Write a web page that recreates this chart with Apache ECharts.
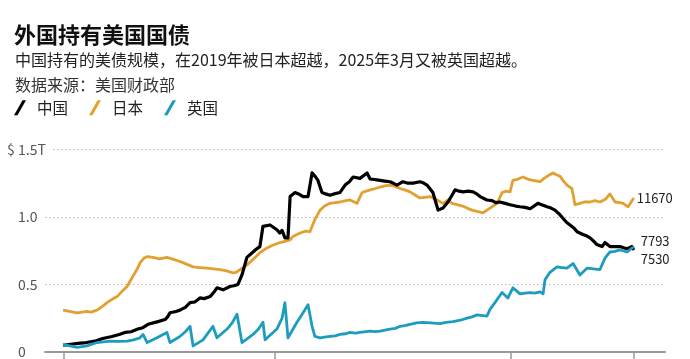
<!DOCTYPE html>
<html>
<head>
<meta charset="utf-8">
<script src="https://cdn.jsdelivr.net/npm/echarts@6/dist/echarts.min.js"></script>
<style>html,body{margin:0;padding:0;background:#fff;}#c{width:690px;height:359px;}</style>
</head>
<body>
<div id="c"></div>
<script>
// Values in trillions of USD, x in decimal years
const seriesNames = ['中国', '日本', '英国'];
const chinaData = [[2001.02,0.05],[2001.65,0.064],[2002.0,0.07],[2002.37,0.08],[2002.7,0.1],[2003.09,0.115],[2003.4,0.13],[2003.64,0.145],[2003.9,0.15],[2004.19,0.17],[2004.4,0.18],[2004.62,0.205],[2005.04,0.225],[2005.34,0.24],[2005.45,0.26],[2005.55,0.29],[2005.8,0.3],[2005.97,0.31],[2006.2,0.33],[2006.40,0.365],[2006.6,0.37],[2006.82,0.40],[2007.0,0.395],[2007.25,0.41],[2007.4,0.44],[2007.54,0.475],[2007.80,0.46],[2008.09,0.485],[2008.25,0.49],[2008.43,0.50],[2008.60,0.57],[2008.81,0.70],[2009.07,0.74],[2009.2,0.76],[2009.36,0.78],[2009.49,0.93],[2009.65,0.935],[2009.79,0.94],[2010.08,0.905],[2010.2,0.88],[2010.3,0.9],[2010.42,0.845],[2010.55,0.845],[2010.64,1.15],[2010.85,1.18],[2011.0,1.17],[2011.19,1.15],[2011.40,1.15],[2011.57,1.325],[2011.7,1.3],[2011.82,1.27],[2011.99,1.18],[2012.15,1.17],[2012.33,1.16],[2012.5,1.17],[2012.75,1.18],[2012.97,1.235],[2013.15,1.26],[2013.31,1.295],[2013.60,1.285],[2013.90,1.325],[2014.03,1.28],[2014.25,1.275],[2014.45,1.27],[2014.65,1.265],[2014.87,1.26],[2015.0,1.25],[2015.17,1.235],[2015.42,1.26],[2015.6,1.25],[2015.85,1.25],[2016.14,1.26],[2016.3,1.25],[2016.44,1.235],[2016.69,1.18],[2016.91,1.05],[2017.12,1.065],[2017.33,1.11],[2017.5,1.16],[2017.63,1.20],[2017.8,1.19],[2017.97,1.185],[2018.2,1.19],[2018.39,1.185],[2018.55,1.17],[2018.69,1.15],[2018.98,1.125],[2019.2,1.12],[2019.35,1.105],[2019.53,1.11],[2019.75,1.1],[2019.96,1.09],[2020.2,1.08],[2020.38,1.075],[2020.6,1.07],[2020.81,1.06],[2021.14,1.10],[2021.3,1.09],[2021.53,1.075],[2021.7,1.065],[2021.86,1.05],[2022.05,1.02],[2022.20,0.99],[2022.35,0.96],[2022.50,0.94],[2022.65,0.92],[2022.80,0.89],[2023.05,0.87],[2023.2,0.86],[2023.35,0.845],[2023.5,0.82],[2023.64,0.795],[2023.86,0.78],[2023.98,0.81],[2024.19,0.78],[2024.4,0.78],[2024.62,0.78],[2024.8,0.77],[2024.92,0.765],[2025.13,0.78],[2025.2,0.755]];
const japanData = [[2001.02,0.31],[2001.3,0.3],[2001.61,0.29],[2002.03,0.30],[2002.2,0.295],[2002.46,0.31],[2002.7,0.34],[2002.88,0.365],[2003.1,0.39],[2003.31,0.41],[2003.5,0.445],[2003.73,0.485],[2003.98,0.56],[2004.15,0.61],[2004.28,0.66],[2004.45,0.695],[2004.58,0.705],[2004.83,0.70],[2005.1,0.69],[2005.42,0.70],[2005.7,0.685],[2005.97,0.67],[2006.25,0.65],[2006.53,0.63],[2006.8,0.625],[2007.12,0.62],[2007.4,0.615],[2007.67,0.61],[2007.95,0.6],[2008.22,0.585],[2008.35,0.59],[2008.52,0.61],[2008.81,0.645],[2009.1,0.69],[2009.36,0.735],[2009.66,0.77],[2009.9,0.79],[2010.21,0.81],[2010.45,0.82],[2010.64,0.83],[2010.76,0.855],[2011.06,0.88],[2011.3,0.895],[2011.48,0.89],[2011.69,0.98],[2011.91,1.05],[2012.1,1.08],[2012.33,1.10],[2012.55,1.105],[2012.75,1.11],[2013.0,1.12],[2013.18,1.125],[2013.47,1.10],[2013.69,1.18],[2014.03,1.20],[2014.25,1.21],[2014.45,1.22],[2014.65,1.23],[2014.87,1.235],[2015.1,1.225],[2015.30,1.21],[2015.5,1.2],[2015.72,1.185],[2015.95,1.16],[2016.14,1.14],[2016.35,1.145],[2016.57,1.15],[2016.87,1.125],[2017.12,1.10],[2017.33,1.125],[2017.5,1.1],[2017.71,1.09],[2017.95,1.08],[2018.14,1.065],[2018.35,1.05],[2018.56,1.04],[2018.81,1.03],[2019.11,1.065],[2019.41,1.10],[2019.62,1.18],[2019.8,1.19],[2019.96,1.185],[2020.08,1.27],[2020.3,1.28],[2020.51,1.295],[2020.7,1.28],[2020.93,1.27],[2021.23,1.26],[2021.4,1.285],[2021.53,1.30],[2021.78,1.325],[2021.95,1.31],[2022.08,1.30],[2022.2,1.27],[2022.37,1.235],[2022.58,1.21],[2022.71,1.09],[2022.92,1.10],[2023.1,1.11],[2023.35,1.11],[2023.55,1.12],[2023.77,1.11],[2024.0,1.13],[2024.19,1.17],[2024.41,1.11],[2024.6,1.105],[2024.75,1.10],[2024.96,1.075],[2025.2,1.14]];
const ukData = [[2001.02,0.057],[2001.3,0.045],[2001.61,0.035],[2002.03,0.045],[2002.46,0.07],[2003.01,0.08],[2003.4,0.078],[2003.73,0.08],[2004.0,0.09],[2004.28,0.105],[2004.41,0.13],[2004.58,0.07],[2005.00,0.105],[2005.42,0.145],[2005.55,0.07],[2005.97,0.115],[2006.2,0.15],[2006.40,0.19],[2006.53,0.045],[2006.95,0.09],[2007.37,0.19],[2007.54,0.105],[2007.97,0.17],[2008.2,0.22],[2008.39,0.28],[2008.60,0.07],[2009.07,0.13],[2009.3,0.17],[2009.49,0.22],[2009.58,0.09],[2010.08,0.17],[2010.3,0.25],[2010.42,0.365],[2010.55,0.105],[2010.93,0.22],[2011.15,0.28],[2011.40,0.35],[2011.48,0.34],[2011.57,0.19],[2011.69,0.115],[2011.91,0.105],[2012.1,0.11],[2012.33,0.115],[2012.55,0.12],[2012.75,0.13],[2013.0,0.135],[2013.18,0.145],[2013.4,0.14],[2013.60,0.145],[2014.03,0.155],[2014.25,0.15],[2014.45,0.155],[2014.87,0.17],[2015.1,0.175],[2015.30,0.19],[2015.5,0.195],[2015.72,0.205],[2016.0,0.215],[2016.27,0.22],[2016.6,0.215],[2016.99,0.21],[2017.25,0.22],[2017.54,0.225],[2017.85,0.235],[2018.14,0.25],[2018.35,0.26],[2018.56,0.275],[2018.98,0.265],[2019.11,0.315],[2019.32,0.365],[2019.62,0.44],[2019.87,0.40],[2020.08,0.475],[2020.38,0.43],[2020.6,0.435],[2020.81,0.44],[2021.0,0.435],[2021.23,0.445],[2021.36,0.43],[2021.44,0.535],[2021.65,0.59],[2021.95,0.63],[2022.15,0.625],[2022.37,0.62],[2022.63,0.655],[2022.92,0.57],[2023.22,0.62],[2023.5,0.615],[2023.77,0.61],[2023.98,0.695],[2024.19,0.74],[2024.4,0.745],[2024.62,0.755],[2024.92,0.74],[2025.2,0.779]];
// End labels (亿美元)
const endLabelValues = { '中国': 7530, '日本': 11670, '英国': 7793 };
const xTickValues = [2001.06, 2010, 2020, 2025.21];
const yTickLabels = { 0: '0', 0.5: '0.5', 1: '1.0', 1.5: '1.5T' };

const FONT = '"Noto Sans CJK SC", "Noto Sans", sans-serif';
const chart = echarts.init(document.getElementById('c'), null, { renderer: 'canvas' });

function lineSeries(name, data, color, width, z, offset, dist) {
  return {
    name: name, type: 'line', data: data, showSymbol: false, symbol: 'none',
    z: z, animation: false,
    lineStyle: { color: color, width: width, join: 'round' },
    itemStyle: { color: color },
    endLabel: {
      show: true, fontFamily: FONT, fontSize: 13, color: '#222',
      distance: dist, offset: offset,
      formatter: function () { return String(endLabelValues[name]); }
    }
  };
}

chart.setOption({
  backgroundColor: '#fff',
  animation: false,
  title: [
    { text: '外国持有美国国债', left: 14, top: 24, padding: 0,
      textStyle: { fontFamily: FONT, fontSize: 22, fontWeight: 'bold', color: '#111' } },
    { text: '中国持有的美债规模，在2019年被日本超越，2025年3月又被英国超越。', left: 15, top: 52, padding: 0,
      textStyle: { fontFamily: FONT, fontSize: 16, fontWeight: 'normal', color: '#222' } },
    { text: '数据来源：美国财政部', left: 15, top: 77, padding: 0,
      textStyle: { fontFamily: FONT, fontSize: 16, fontWeight: 'normal', color: '#333' } }
  ],
  legend: {
    data: seriesNames, left: 14, top: 100, padding: 0,
    itemWidth: 12, itemHeight: 15, itemGap: 21,
    icon: 'path://M8.5,0 L12,0 L3.5,15 L0,15 Z',
    textStyle: { fontFamily: FONT, fontSize: 15.5, color: '#222', padding: [0, 0, 0, 6] }
  },
  grid: { left: 45, right: 25, top: 149.3, bottom: 6.3, containLabel: false },
  xAxis: {
    type: 'value', min: 2000.254, max: 2026.525,
    axisLine: { show: true, lineStyle: { color: '#999', width: 2 } },
    axisTick: { show: true, customValues: xTickValues, length: 8, lineStyle: { color: '#999', width: 1.5 } },
    axisLabel: { show: false },
    splitLine: { show: false }
  },
  yAxis: {
    type: 'value', min: 0, max: 1.5, interval: 0.5,
    axisLine: { show: false }, axisTick: { show: false },
    axisLabel: {
      align: 'left', margin: 27, fontFamily: FONT, fontSize: 14, color: '#555',
      formatter: function (v) { return yTickLabels[v]; }
    },
    splitLine: { show: true, lineStyle: { color: '#bbb', width: 1, type: [1.5, 2.5] } }
  },
  graphic: [
    { type: 'text', x: 7, y: 149.5, z: 100,
      style: { text: '$', fontFamily: FONT, fontSize: 14, fill: '#555', verticalAlign: 'middle' } },
    { type: 'rect', shape: { x: 45, y: 145, width: 8, height: 8 }, z: 100,
      style: { fill: '#fff' } }
  ],
  series: [
    lineSeries('日本', japanData, '#E2A030', 2.8, 2, [0, 0], 3),
    lineSeries('中国', chinaData, '#000000', 3.2, 3, [2, 9], 5),
    lineSeries('英国', ukData, '#1E9CBE', 2.8, 4, [2, -6], 5)
  ]
});
</script>
</body>
</html>
